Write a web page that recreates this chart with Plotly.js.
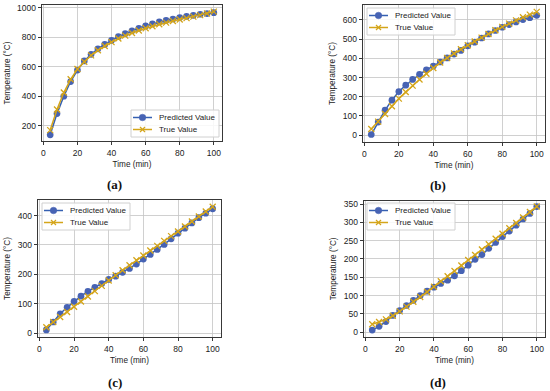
<!DOCTYPE html>
<html>
<head>
<meta charset="utf-8">
<script src="https://cdn.plot.ly/plotly-3.0.1.min.js"></script>
<style>html,body{margin:0;padding:0;background:#fff;}#chart{width:550px;height:391px;}</style>
</head>
<body>
<div id="chart"></div>
<script>
var time = [4,8,12,16,20,24,28,32,36,40,44,48,52,56,60,64,68,72,76,80,84,88,92,96,100];

var predA = [138,282,400,500,578,640,685,722,752,780,805,825,845,862,878,892,905,915,925,935,943,950,957,962,968];
var trueA = [170,310,425,515,585,635,678,712,742,768,792,812,830,847,862,876,889,900,911,921,931,941,951,962,975];

var predB = [3,68,130,182,227,260,290,317,340,360,381,402,422,441,465,484,506,527,545,562,576,590,602,612,624];
var trueB = [32,70,110,150,190,225,258,290,320,350,378,402,425,447,468,488,508,527,546,564,581,598,614,628,642];

var predC = [11,38,66,88,108,126,142,156,169,183,194,207,220,235,252,268,285,302,321,340,357,375,393,408,423];
var trueC = [20,38,55,72,90,108,125,143,161,179,197,214,231,248,264,281,297,314,330,346,363,380,397,414,430];

var predD = [6,16,29,46,59,73,87,100,112,123,133,142,154,168,183,199,212,229,245,261,276,292,309,324,343];
var trueD = [22,28,35,45,57,70,83,96,110,124,139,153,167,182,197,211,226,240,255,269,284,298,313,328,343];

var seriesNames = ["Predicted Value", "True Value"];
var panelLabels = ["(a)", "(b)", "(c)", "(d)"];
var xTitle = "Time (min)";
var yTitle = "Temperature (°C)";

var predColor = "#4763b4";
var predLine = "#3560b2";
var trueColor = "#d4a51a";

var W = 550, H = 391;
var panels = [
  {pred: predA, tru: trueA, xd:[42/W,222/W], yd:[1-141/H,1-5/H], yr:[96,1020], dt:200, leg:[131,110], lab:[114,184]},
  {pred: predB, tru: trueB, xd:[363/W,545/W], yd:[1-142/H,1-5/H], yr:[-36,678], dt:100, leg:[367,8], lab:[438,185]},
  {pred: predC, tru: trueC, xd:[38/W,221/W], yd:[1-337/H,1-200/H], yr:[-13,453], dt:100, leg:[42,203], lab:[115,382]},
  {pred: predD, tru: trueD, xd:[364/W,545/W], yd:[1-337/H,1-200.7/H], yr:[-13,359], dt:50, leg:[367,203], lab:[438,382]}
];

var font = "Liberation Sans, Arial, sans-serif";
var data = [];
var layout = {
  width: W, height: H,
  margin: {l:0, r:0, t:0, b:0},
  paper_bgcolor: "#ffffff",
  plot_bgcolor: "#ffffff",
  showlegend: false,
  font: {family: font, size: 8, color: "#222"},
  annotations: [],
  shapes: []
};

function px(x) { return x / W; }
function py(y) { return 1 - y / H; }

panels.forEach(function(p, i) {
  var n = i + 1;
  var xa = n === 1 ? "x" : "x" + n;
  var ya = n === 1 ? "y" : "y" + n;
  data.push({
    x: time, y: p.pred, type: "scatter", mode: "lines+markers",
    name: seriesNames[0], xaxis: xa, yaxis: ya,
    line: {color: predLine, width: 1.5},
    marker: {color: predColor, size: 6.7, symbol: "circle"}
  });
  data.push({
    x: time, y: p.tru, type: "scatter", mode: "lines+markers",
    name: seriesNames[1], xaxis: xa, yaxis: ya,
    line: {color: trueColor, width: 1.5},
    marker: {color: trueColor, size: 6, symbol: "x-thin", line: {color: trueColor, width: 1.3}}
  });
  var axCommon = {
    showline: true, linecolor: "#222", linewidth: 0.9, mirror: true,
    ticks: "outside", ticklen: 3.5, tickwidth: 0.9, tickcolor: "#222",
    showgrid: true, gridcolor: "#c4c4c4", gridwidth: 0.8,
    zeroline: false, tickfont: {family: font, size: 8.5, color: "#222"}
  };
  layout["xaxis" + (n === 1 ? "" : n)] = Object.assign({}, axCommon, {
    domain: p.xd, anchor: ya, range: [-0.8, 104.8], tick0: 0, dtick: 20,
    title: {text: xTitle, font: {family: font, size: 8.2, color: "#222"}, standoff: 4}
  });
  layout["yaxis" + (n === 1 ? "" : n)] = Object.assign({}, axCommon, {
    domain: p.yd, anchor: xa, range: p.yr, tick0: 0, dtick: p.dt,
    title: {text: yTitle, font: {family: font, size: 8.2, color: "#222"}, standoff: 5}
  });

  // legend box (matplotlib style)
  var L = p.leg[0], T = p.leg[1], bw = 88, bh = 27;
  layout.shapes.push({type: "rect", xref: "paper", yref: "paper", layer: "above",
    x0: px(L), x1: px(L + bw), y0: py(T + bh), y1: py(T),
    fillcolor: "rgba(255,255,255,0.85)", line: {color: "#d0d0d0", width: 1}});
  var y1 = T + 7.5, y2 = T + 19.5;
  layout.shapes.push({type: "line", xref: "paper", yref: "paper", layer: "above",
    x0: px(L + 2), x1: px(L + 21), y0: py(y1), y1: py(y1), line: {color: predLine, width: 1.5}});
  layout.shapes.push({type: "circle", xref: "paper", yref: "paper", layer: "above",
    x0: px(L + 11.5 - 3.3), x1: px(L + 11.5 + 3.3), y0: py(y1 + 3.3), y1: py(y1 - 3.3),
    fillcolor: predColor, line: {color: predColor, width: 0.5}});
  layout.shapes.push({type: "line", xref: "paper", yref: "paper", layer: "above",
    x0: px(L + 2), x1: px(L + 21), y0: py(y2), y1: py(y2), line: {color: trueColor, width: 1.5}});
  layout.shapes.push({type: "line", xref: "paper", yref: "paper", layer: "above",
    x0: px(L + 9), x1: px(L + 14), y0: py(y2 - 2.5), y1: py(y2 + 2.5), line: {color: trueColor, width: 1.3}});
  layout.shapes.push({type: "line", xref: "paper", yref: "paper", layer: "above",
    x0: px(L + 9), x1: px(L + 14), y0: py(y2 + 2.5), y1: py(y2 - 2.5), line: {color: trueColor, width: 1.3}});
  [seriesNames[0], seriesNames[1]].forEach(function(s, k) {
    layout.annotations.push({
      text: s, xref: "paper", yref: "paper", x: px(L + 26), y: py(k === 0 ? y1 : y2),
      xanchor: "left", yanchor: "middle", showarrow: false,
      font: {family: font, size: 8, color: "#222"}
    });
  });

  layout.annotations.push({
    text: "<b>" + panelLabels[i] + "</b>", xref: "paper", yref: "paper",
    x: px(p.lab[0]), y: py(p.lab[1]), xanchor: "center", yanchor: "middle",
    showarrow: false, font: {family: "Liberation Serif, Times New Roman, serif", size: 13, color: "#111"}
  });
});

Plotly.newPlot("chart", data, layout, {staticPlot: true, displayModeBar: false});
</script>
</body>
</html>
